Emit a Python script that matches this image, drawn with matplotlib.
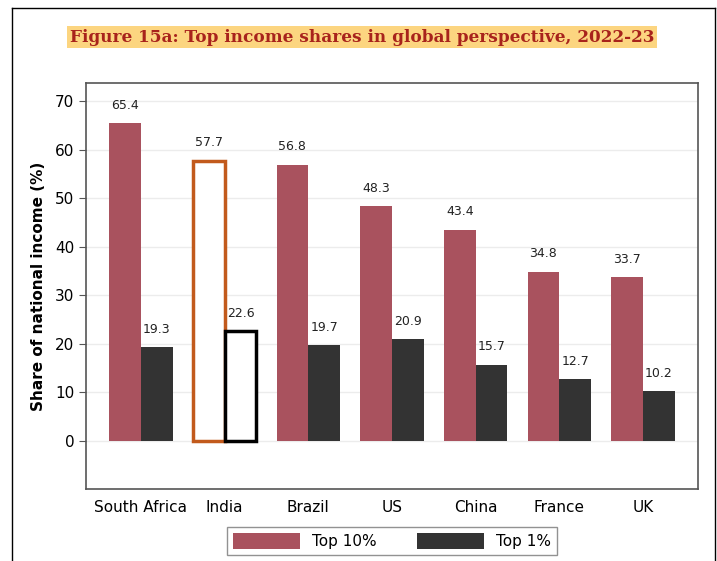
import numpy as np
import matplotlib.pyplot as plt
from matplotlib.patches import Patch
from matplotlib.lines import Line2D

countries = ['South Africa', 'India', 'Brazil', 'US', 'China', 'France', 'UK']
top10 = [65.4, 57.7, 56.8, 48.3, 43.4, 34.8, 33.7]
top1 = [19.3, 22.6, 19.7, 20.9, 15.7, 12.7, 10.2]
highlight = 'India'

c10 = '#a9525e'
c1 = '#333333'

fig = plt.figure(figsize=(7.17, 5.61), dpi=100)
ax = fig.add_axes([86 / 717, 1 - 489 / 561, 612 / 717, 406 / 561])

x = np.arange(len(countries))
w = 0.38
for i, c in enumerate(countries):
    if c == highlight:
        ax.bar(x[i] - w / 2, top10[i], w, color='white', edgecolor='#c25a1c', linewidth=2.5, zorder=3)
        ax.bar(x[i] + w / 2, top1[i], w, color='white', edgecolor='black', linewidth=2.5, zorder=3)
    else:
        ax.bar(x[i] - w / 2, top10[i], w, color=c10, zorder=3)
        ax.bar(x[i] + w / 2, top1[i], w, color=c1, zorder=3)
    ax.text(x[i] - w / 2, top10[i] + 2.4, f'{top10[i]:.1f}', ha='center', va='bottom', fontsize=9, color='#222222')
    ax.text(x[i] + w / 2, top1[i] + 2.4, f'{top1[i]:.1f}', ha='center', va='bottom', fontsize=9, color='#222222')

ax.set_xlim(-0.657, 6.657)
ax.set_ylim(-9.9, 73.7)
ax.set_yticks(range(0, 71, 10))
ax.set_xticks(x)
ax.set_xticklabels(countries, fontsize=11)
ax.tick_params(axis='x', length=0, pad=8)
ax.tick_params(axis='y', labelsize=11, length=5, color='#555555')
ax.grid(axis='y', color='#ececec', linewidth=1, zorder=0)
for s in ax.spines.values():
    s.set_color('#555555')
    s.set_linewidth(1.2)
ax.set_ylabel('Share of national income (%)', fontsize=11, fontweight='bold', labelpad=6)

# legend
handles = [Patch(facecolor=c10, label='Top 10%'), Patch(facecolor=c1, label='Top 1%')]
leg = fig.legend(handles=handles, loc='center', bbox_to_anchor=(392 / 717, 1 - 541 / 561), ncol=2,
                 fontsize=11, frameon=True, fancybox=False, handlelength=4.4, handleheight=1.3,
                 columnspacing=2.6, edgecolor='#777777', borderpad=0.4)
leg.get_frame().set_linewidth(1)

# title
fig.text(362 / 717, 1 - 37 / 561, 'Figure 15a: Top income shares in global perspective, 2022-23',
         ha='center', va='center', fontsize=12.2, fontweight='bold', family='DejaVu Serif',
         color='#a8231c', bbox=dict(boxstyle='square,pad=0.15', facecolor='#fcd580', edgecolor='none'))

# page frame
for xs, ys in [([12, 12], [561, 8]), ([12, 715], [8, 8]), ([715, 715], [8, 561])]:
    fig.add_artist(Line2D([v / 717 for v in xs], [1 - v / 561 for v in ys], color='black', linewidth=1))

fig.savefig('out.png', dpi=100)
